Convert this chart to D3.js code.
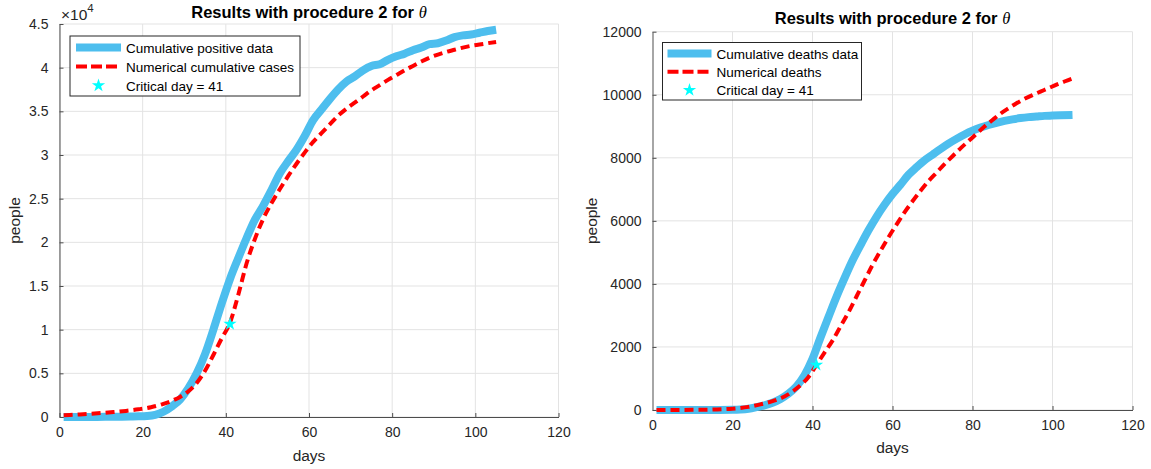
<!DOCTYPE html>
<html>
<head>
<meta charset="utf-8">
<script src="https://cdn.jsdelivr.net/npm/d3@7"></script>
<style>
  body { margin: 0; background: #fff; }
  svg { display: block; font-family: "Liberation Sans", Arial, sans-serif; }
</style>
</head>
<body>
<svg width="1151" height="469"></svg>
<script>
// left panel: cumulative positive cases
var casesDays = [1, 3, 5, 7, 9, 11, 13, 15, 17, 19, 21, 23, 25, 27, 29, 31, 33, 35, 37, 39, 41, 43, 45, 47, 49,
  51, 53, 55, 57, 59, 61, 63, 65, 67, 69, 71, 73, 75, 77, 79, 81, 83, 85, 87, 89, 91, 93, 95, 97, 99, 101, 103, 105];
var casesData = [0, 0, 0, 0, 10, 20, 30, 40, 60, 80, 120, 250, 600, 1200, 2000, 3300, 5000, 7200, 10000, 13000, 15800,
  18200, 20500, 22600, 24200, 26000, 27900, 29300, 30600, 32200, 34000, 35200, 36400, 37500, 38400, 39000, 39700,
  40200, 40400, 40900, 41300, 41600, 42000, 42300, 42700, 42800, 43100, 43500, 43700, 43800, 44000, 44200, 44350];

var casesModelDays = [1, 4, 7, 10, 13, 16, 19, 22, 25, 27, 29, 31, 33, 35, 37, 39, 41, 43, 45, 47, 49, 51, 53, 55, 57,
  59, 61, 63, 65, 67, 69, 71, 73, 75, 77, 79, 81, 83, 85, 87, 89, 91, 93, 95, 97, 99, 101, 103, 105];
var casesModel = [200, 270, 350, 450, 560, 700, 880, 1120, 1500, 1850, 2300, 2950, 3900, 5300, 7100, 9000, 10800,
  14000, 17600, 20400, 22700, 24500, 26100, 27600, 29000, 30300, 31500, 32500, 33500, 34500, 35300, 36000, 36700,
  37400, 38000, 38600, 39150, 39700, 40200, 40700, 41150, 41500, 41800, 42050, 42300, 42500, 42650, 42800, 42950];

// right panel: cumulative deaths
var deathsDays = [1, 5, 10, 15, 20, 22, 24, 26, 28, 30, 32, 34, 36, 38, 40, 42, 44, 46, 48, 50, 52, 54, 56, 58, 60,
  62, 64, 66, 68, 70, 72, 74, 76, 78, 80, 82, 84, 86, 88, 90, 92, 94, 96, 98, 100, 102, 105];
var deathsData = [0, 0, 0, 0, 5, 15, 40, 90, 150, 230, 350, 520, 750, 1100, 1620, 2300, 2950, 3590, 4180, 4740, 5230,
  5700, 6130, 6510, 6850, 7150, 7460, 7700, 7920, 8100, 8280, 8450, 8600, 8740, 8860, 8960, 9040, 9110, 9170, 9220,
  9260, 9290, 9310, 9330, 9340, 9350, 9360];

var deathsModelDays = [1, 5, 10, 15, 20, 24, 27, 30, 33, 36, 39, 41, 43, 45, 47, 49, 51, 53, 55, 57, 59, 61, 63, 65,
  67, 69, 71, 73, 75, 77, 79, 81, 83, 85, 87, 89, 91, 93, 95, 97, 99, 101, 103, 105];
var deathsModel = [0, 0, 5, 15, 40, 100, 180, 280, 430, 680, 1050, 1430, 1820, 2200, 2650, 3100, 3600, 4100, 4600,
  5050, 5480, 5880, 6270, 6620, 6950, 7260, 7530, 7800, 8050, 8300, 8530, 8760, 8990, 9200, 9400, 9570, 9730, 9870,
  9990, 10100, 10210, 10320, 10420, 10520];

var criticalDay = 41;
var criticalCases = 10650;
var criticalDeaths = 1430;

var xTicks = [0, 20, 40, 60, 80, 100, 120];
var casesTicks = [0, 5000, 10000, 15000, 20000, 25000, 30000, 35000, 40000, 45000];
var deathsTicks = [0, 2000, 4000, 6000, 8000, 10000, 12000];

var svg = d3.select('svg');
var blue = '#4DBEEE';
var red = '#FF0000';
var axisColor = '#4d4d4d';
var textColor = '#262626';

function zip(xs, ys) {
  return xs.map(function(d, i) { return { day: d, v: ys[i] }; });
}

function drawPanel(cfg) {
  var x = d3.scaleLinear().domain([0, 120]).range(cfg.xRange);
  var y = d3.scaleLinear().domain(cfg.yDomain).range(cfg.yRange);
  var g = svg.append('g');

  // grid
  g.selectAll('.vgrid').data(xTicks).enter().append('line')
    .attr('x1', function(d) { return x(d); }).attr('x2', function(d) { return x(d); })
    .attr('y1', cfg.yRange[0]).attr('y2', cfg.yRange[1])
    .attr('stroke', '#e3e3e3').attr('stroke-width', 1);
  g.selectAll('.hgrid').data(cfg.yTicks).enter().append('line')
    .attr('x1', cfg.xRange[0]).attr('x2', cfg.xRange[1])
    .attr('y1', function(d) { return y(d); }).attr('y2', function(d) { return y(d); })
    .attr('stroke', '#e3e3e3').attr('stroke-width', 1);

  // axes
  var xAxis = d3.axisBottom(x).tickValues(xTicks).tickSizeInner(-4).tickSizeOuter(0).tickPadding(10);
  var yAxis = d3.axisLeft(y).tickValues(cfg.yTicks).tickSizeInner(-4).tickSizeOuter(0).tickPadding(11)
    .tickFormat(cfg.yFormat);
  var gx = g.append('g').attr('transform', 'translate(0,' + cfg.yRange[0] + ')').call(xAxis);
  var gy = g.append('g').attr('transform', 'translate(' + cfg.xRange[0] + ',0)').call(yAxis);
  [gx, gy].forEach(function(a) {
    a.select('.domain').attr('stroke', axisColor);
    a.selectAll('.tick line').attr('stroke', axisColor);
    a.selectAll('.tick text').attr('fill', textColor).style('font-size', '14px')
      .style('font-family', '"Liberation Sans", Arial, sans-serif');
  });
  if (cfg.yAxisColor) gy.select('.domain').attr('stroke', cfg.yAxisColor).attr('stroke-width', 2);

  // lines
  var line = d3.line().x(function(d) { return x(d.day); }).y(function(d) { return y(d.v); });
  g.append('path').datum(zip(cfg.dataDays, cfg.data))
    .attr('d', line.curve(d3.curveMonotoneX))
    .attr('fill', 'none').attr('stroke', blue).attr('stroke-width', 8)
    .attr('stroke-linejoin', 'round');
  g.append('path').datum(zip(cfg.modelDays, cfg.model))
    .attr('d', line.curve(d3.curveMonotoneX))
    .attr('fill', 'none').attr('stroke', red).attr('stroke-width', 4)
    .attr('stroke-dasharray', '9,5');

  var star = d3.symbol().type(d3.symbolStar).size(55);
  g.append('path').attr('d', star)
    .attr('transform', 'translate(' + x(criticalDay) + ',' + y(cfg.critical) + ')')
    .attr('fill', '#00FFFF');

  // title
  var t = g.append('text').attr('x', (cfg.xRange[0] + cfg.xRange[1]) / 2).attr('y', cfg.titleY)
    .attr('text-anchor', 'middle').attr('fill', '#000')
    .style('font-size', '16.5px').style('font-weight', 'bold');
  t.append('tspan').text('Results with procedure 2 for ');
  t.append('tspan').text('θ').style('font-family', '"Liberation Serif", "Times New Roman", serif')
    .style('font-style', 'italic').style('font-weight', 'normal');

  // axis labels
  g.append('text').attr('x', (cfg.xRange[0] + cfg.xRange[1]) / 2).attr('y', cfg.xLabelY)
    .attr('text-anchor', 'middle').attr('fill', textColor).style('font-size', '15.5px').text('days');
  g.append('text').attr('transform', 'translate(' + cfg.yLabelX + ',' + (cfg.yRange[0] + cfg.yRange[1]) / 2 + ') rotate(-90)')
    .attr('text-anchor', 'middle').attr('fill', textColor).style('font-size', '15.5px').text('people');

  // legend
  var L = cfg.legend;
  var lg = g.append('g').attr('transform', 'translate(' + L.x + ',' + L.y + ')');
  lg.append('rect').attr('width', L.w).attr('height', L.h)
    .attr('fill', '#fff').attr('stroke', '#262626').attr('stroke-width', 1);
  var rows = [0, 1, 2];
  rows.forEach(function(i) {
    var ry = L.rowY0 + i * L.rowStep;
    if (i === 0) {
      lg.append('line').attr('x1', L.lx0).attr('x2', L.lx1).attr('y1', ry).attr('y2', ry)
        .attr('stroke', blue).attr('stroke-width', 8);
    } else if (i === 1) {
      lg.append('line').attr('x1', L.lx0).attr('x2', L.lx1).attr('y1', ry).attr('y2', ry)
        .attr('stroke', red).attr('stroke-width', 4).attr('stroke-dasharray', '11,4');
    } else {
      lg.append('path').attr('d', star)
        .attr('transform', 'translate(' + (L.lx0 + L.lx1) / 2 + ',' + ry + ')').attr('fill', '#00FFFF');
    }
    lg.append('text').attr('x', L.tx).attr('y', ry + 5).attr('fill', '#000')
      .style('font-size', '13.5px').text(L.labels[i]);
  });

  return g;
}

var left = drawPanel({
  xRange: [59.5, 558.5], yRange: [417, 24], yDomain: [0, 45000], yTicks: casesTicks,
  yFormat: function(d) { return d3.format('~g')(d / 10000); },
  dataDays: casesDays, data: casesData, modelDays: casesModelDays, model: casesModel,
  critical: criticalCases, titleY: 17.5, xLabelY: 461, yLabelX: 20,
  legend: { x: 70, y: 36, w: 230, h: 60, rowY0: 11.5, rowStep: 19, lx0: 6, lx1: 51, tx: 56,
    labels: ['Cumulative positive data', 'Numerical cumulative cases', 'Critical day = 41'] }
});

// x10^4 exponent label
var ex = left.append('text').attr('x', 61).attr('y', 20).attr('fill', textColor).style('font-size', '15.5px');
ex.append('tspan').text('×10');
ex.append('tspan').attr('dy', -8).style('font-size', '11.5px').text('4');

drawPanel({
  xRange: [652.5, 1132.5], yRange: [410, 31.7], yDomain: [0, 12000], yTicks: deathsTicks,
  yFormat: d3.format('d'), yAxisColor: '#a6a6a6',
  dataDays: deathsDays, data: deathsData, modelDays: deathsModelDays, model: deathsModel,
  critical: criticalDeaths, titleY: 24, xLabelY: 453, yLabelX: 597,
  legend: { x: 662.5, y: 42.5, w: 199, h: 57.5, rowY0: 11, rowStep: 18.3, lx0: 5, lx1: 49, tx: 54,
    labels: ['Cumulative deaths data', 'Numerical deaths', 'Critical day = 41'] }
});
</script>
</body>
</html>
